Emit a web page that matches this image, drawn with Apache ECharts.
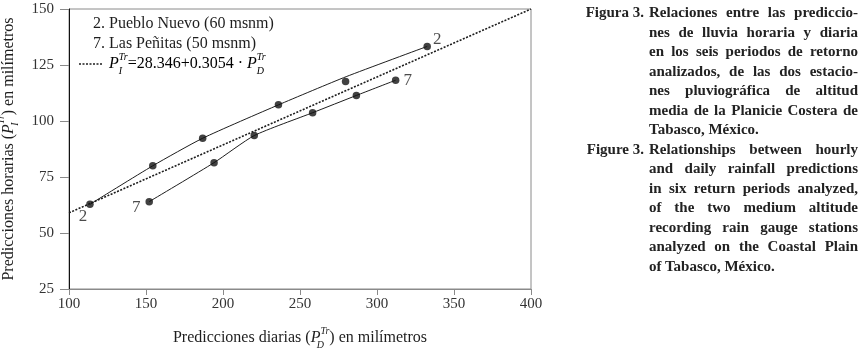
<!DOCTYPE html>
<html>
<head>
<meta charset="utf-8">
<script src="https://cdn.jsdelivr.net/npm/echarts@6/dist/echarts.min.js"></script>
<style>
	html, body { margin: 0; padding: 0; background: #fff; }
	.wrap { position: relative; width: 862px; height: 354px; }
	#main { position: absolute; left: 0; top: 0; width: 862px; height: 354px; }
	.cap {
		position: absolute;
		left: 560px;
		width: 298px;
		font: bold 15px "Liberation Serif", serif;
		color: #222;
		line-height: 19.5px;
	}
	.cap .lab { position: absolute; left: 0; width: 84px; text-align: right; }
	.cap .txt { margin-left: 89px; width: 209px; }
	.cap .j { text-align: justify; text-align-last: justify; white-space: nowrap; }
</style>
</head>
<body>
<div class="wrap">
	<div id="main"></div>
	<div class="cap" style="top: 3px;">
		<div class="lab">Figura 3.</div>
		<div class="txt">
			<div class="j">Relaciones entre las prediccio-</div>
			<div class="j">nes de lluvia horaria y diaria</div>
			<div class="j">en los seis periodos de retorno</div>
			<div class="j">analizados, de las dos estacio-</div>
			<div class="j">nes pluviográfica de altitud</div>
			<div class="j">media de la Planicie Costera de</div>
			<div>Tabasco, México.</div>
		</div>
	</div>
	<div class="cap" style="top: 139.5px;">
		<div class="lab">Figure 3.</div>
		<div class="txt">
			<div class="j">Relationships between hourly</div>
			<div class="j">and daily rainfall predictions</div>
			<div class="j">in six return periods analyzed,</div>
			<div class="j">of the two medium altitude</div>
			<div class="j">recording rain gauge stations</div>
			<div class="j">analyzed on the Coastal Plain</div>
			<div>of Tabasco, México.</div>
		</div>
	</div>
</div>
<script>
	// 2. Pueblo Nuevo (puntos)
	const pnX = [113.6, 154.4, 186.8, 236.0, 279.6, 332.6];
	const pnY = [62.8, 80.0, 92.3, 107.2, 117.6, 133.3];
	// curva ajustada de Pueblo Nuevo
	const pnCurveX = [113.6, 154.4, 186.8, 236.0, 280.0, 332.6];
	const pnCurveY = [62.8, 80.0, 92.3, 107.2, 119.8, 133.3];
	// 7. Las Peñitas
	const lpX = [152.1, 194.2, 220.3, 258.2, 286.6, 312.1];
	const lpY = [64.0, 81.4, 93.5, 103.7, 111.4, 118.2];
	// recta de regresion (extremos)
	const fitX = [100, 400];
	const fitY = [59.0, 150.0];

	const xTicks = [100, 150, 200, 250, 300, 350, 400];
	const yTicks = [25, 50, 75, 100, 125, 150];
	const stationNames = ['2. Pueblo Nuevo (60 msnm)', '7. Las Peñitas (50 msnm)'];
	const stationIds = ['2', '7'];

	const FONT = '"Liberation Serif", serif';
	const ink = '#1e1e1e';

	function pairs(xs, ys) {
		return xs.map((x, i) => [x, ys[i]]);
	}

	function endLabel(text, off) {
		return {
			show: true,
			formatter: text,
			position: 'inside',
			offset: off,
			color: ink,
			fontSize: 17,
			fontFamily: FONT,
		};
	}

	let pnData = pairs(pnX, pnY).map((p) => ({ value: p }));
	pnData[0].label = endLabel(stationIds[0], [-7, 12]);
	pnData[pnData.length - 1].label = endLabel(stationIds[0], [10, -7]);

	let lpData = pairs(lpX, lpY).map((p) => ({ value: p }));
	lpData[0].label = endLabel(stationIds[1], [-13, 6]);
	lpData[lpData.length - 1].label = endLabel(stationIds[1], [12, 0]);

	// estilos para sub / superindices
	let rich = {
		n: { fontFamily: FONT, fontSize: 16, color: ink, lineHeight: 24 },
		it: { fontFamily: FONT, fontSize: 16, fontStyle: 'italic', color: ink, lineHeight: 24 },
		sub: { fontFamily: FONT, fontSize: 10, fontStyle: 'italic', color: ink, lineHeight: 12, verticalAlign: 'bottom', width: 0.01 },
		sup: { fontFamily: FONT, fontSize: 10, fontStyle: 'italic', color: ink, lineHeight: 12, verticalAlign: 'top' },
	};

	let option = {
		animation: false,
		backgroundColor: '#fff',
		grid: {
			left: 69,
			right: 331,
			top: 9,
			bottom: 65,
			show: true,
			borderColor: '#8a8a8a',
			borderWidth: 1,
			outerBoundsMode: 'none',
		},
		xAxis: {
			type: 'value',
			min: 100,
			max: 400,
			interval: 50,
			name: '{n|Predicciones diarias (}{it|P}{sub|D}{sup|Tr}{n|) en milímetros}',
			nameLocation: 'middle',
			nameGap: 37,
			nameTextStyle: { rich: rich },
			axisLine: { onZero: false, lineStyle: { color: '#8a8a8a', width: 1 } },
			axisTick: { length: 6, lineStyle: { color: '#8a8a8a' } },
			axisLabel: { margin: 8, color: '#333', fontSize: 15, fontFamily: FONT },
			splitLine: { show: false },
		},
		yAxis: {
			type: 'value',
			min: 25,
			max: 150,
			interval: 25,
			name: '{n|Predicciones horarias (}{it|P}{sub|I}{sup|Tr}{n|) en milímetros}',
			nameLocation: 'middle',
			nameGap: 48,
			nameTextStyle: { rich: rich },
			axisLine: { onZero: false, lineStyle: { color: '#111', width: 1 } },
			axisTick: { length: 9, lineStyle: { color: '#8a8a8a' } },
			axisLabel: { margin: 15, color: '#333', fontSize: 15, fontFamily: FONT },
			splitLine: { show: false },
		},
		graphic: [
			{
				type: 'text', x: 93, y: 24,
				style: { text: stationNames[0], font: '16px ' + FONT, fill: ink, verticalAlign: 'middle' },
			},
			{
				type: 'text', x: 93, y: 44,
				style: { text: stationNames[1], font: '16px ' + FONT, fill: ink, verticalAlign: 'middle' },
			},
			{
				type: 'line',
				shape: { x1: 79, y1: 64, x2: 102, y2: 64 },
				style: { stroke: ink, lineWidth: 1.6, lineDash: [2, 1.5] },
			},
			{
				type: 'text', x: 109, y: 64,
				style: {
					text: '{it|P}{sub|I}{sup|Tr}{n|=28.346+0.3054 · }{it|P}{sub|D}{sup|Tr}',
					rich: rich,
					verticalAlign: 'middle',
				},
			},
		],
		series: [
			{
				name: 'ajuste',
				type: 'line',
				data: pairs(fitX, fitY),
				symbol: 'none',
				lineStyle: { color: ink, width: 1.6, type: [2, 1.5] },
				z: 2,
			},
			{
				name: stationNames[0],
				type: 'line',
				data: pairs(pnCurveX, pnCurveY),
				smooth: 0.2,
				symbol: 'none',
				lineStyle: { color: ink, width: 1 },
				z: 2,
			},
			{
				name: stationNames[1],
				type: 'line',
				data: pairs(lpX, lpY),
				smooth: 0.2,
				symbol: 'none',
				lineStyle: { color: ink, width: 1 },
				z: 2,
			},
			{
				type: 'scatter',
				data: pnData,
				symbolSize: 7.5,
				itemStyle: { color: '#111' },
				z: 3,
			},
			{
				type: 'scatter',
				data: lpData,
				symbolSize: 7.5,
				itemStyle: { color: '#111' },
				z: 3,
			},
		],
	};

	let myChart = echarts.init(document.getElementById('main'));
	myChart.setOption(option);
</script>
</body>
</html>
